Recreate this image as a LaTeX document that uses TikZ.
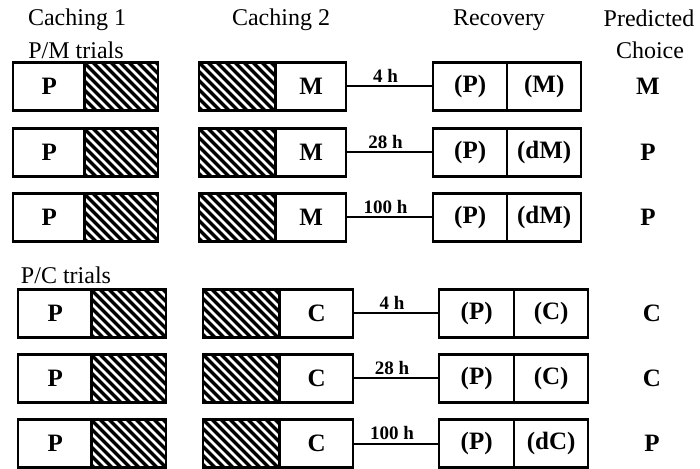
\documentclass[tikz,border=0pt]{standalone}
\usepackage{fontspec}
\setmainfont{Liberation Serif}
\usetikzlibrary{calc}
\newcommand\hatchit[1]{%
  \begin{scope}
    \clip (#1.south west) rectangle (#1.north east);
    \foreach \k in {-54,-45,...,90}{\draw[hl] ($(#1.north west)+(\k,0)$) -- ++(60,60);}
  \end{scope}
  \draw[line width=1.2pt] (#1.south west) rectangle (#1.north east);}
\begin{document}
\begin{tikzpicture}[x=0.5pt,y=-0.5pt,
  cell/.style={draw, line width=1.2pt, minimum height=24pt, inner sep=0pt, anchor=west,
    font=\fontsize{12.5}{14}\selectfont\bfseries},
  hatch/.style={cell, outer sep=0pt},
  hl/.style={line width=1.7pt},
  rec/.style={cell, font=\fontsize{12.5}{14}\selectfont\bfseries},
  conn/.style={line width=1pt},
  lab/.style={above, pos=0.45, inner sep=1.5pt, font=\fontsize{9.5}{11}\selectfont\bfseries},
  pred/.style={font=\fontsize{12.5}{14}\selectfont\bfseries},
  head/.style={font=\fontsize{12}{14}\selectfont}]
\useasboundingbox (0,0) rectangle (700,469);
% headers
\node[head] (h1) at (77,20) {Caching 1};
\node[head] (h1b) at (76,50) {P/M trials};
\node[head] (h2) at (281,20) {Caching 2};
\node[head] (h3) at (499,20) {Recovery};
\node[head] (h4) at (649,18) {Predicted};
\node[head] (h4b) at (650,50) {Choice};
\node[head] (hpc) at (66,275) {P/C trials};
% group A rows
\foreach \r/\y/\t/\rr/\p in {1/86.5/4 h/(M)/M, 2/152.5/28 h/(dM)/P, 3/217.5/100 h/(dM)/P}{
  \node[cell, minimum width=36pt] (a\r-l) at (12,\y) {P};
  \node[hatch, minimum width=37pt] (a\r-h) at (84,\y) {};
  \hatchit{a\r-h}
  \node[hatch, minimum width=38pt] (b\r-h) at (199,\y) {};
  \hatchit{b\r-h}
  \node[cell, minimum width=35pt] (b\r-r) at (275,\y) {M};
  \node[rec, minimum width=37pt] (c\r-l) at (432,\y) {(P)};
  \node[rec, minimum width=37pt] (c\r-r) at (506,\y) {\rr};
  \node[pred] (p\r) at (648,\y) {\p};
  \draw[conn] (b\r-r.east) -- node[lab] {\t} (c\r-l.west);
}
% group B rows
\foreach \r/\y/\t/\rr/\p in {4/313.5/4 h/(C)/C, 5/378.5/28 h/(C)/C, 6/443.5/100 h/(dC)/P}{
  \node[cell, minimum width=37pt] (a\r-l) at (17,\y) {P};
  \node[hatch, minimum width=37.5pt] (a\r-h) at (91,\y) {};
  \hatchit{a\r-h}
  \node[hatch, minimum width=38pt] (b\r-h) at (203,\y) {};
  \hatchit{b\r-h}
  \node[cell, minimum width=36.5pt] (b\r-r) at (279,\y) {C};
  \node[rec, minimum width=37.5pt] (c\r-l) at (438,\y) {(P)};
  \node[rec, minimum width=37pt] (c\r-r) at (513,\y) {\rr};
  \node[pred] (p\r) at (652,\y) {\p};
  \draw[conn] (b\r-r.east) -- node[lab] {\t} (c\r-l.west);
}
\end{tikzpicture}
\end{document}
